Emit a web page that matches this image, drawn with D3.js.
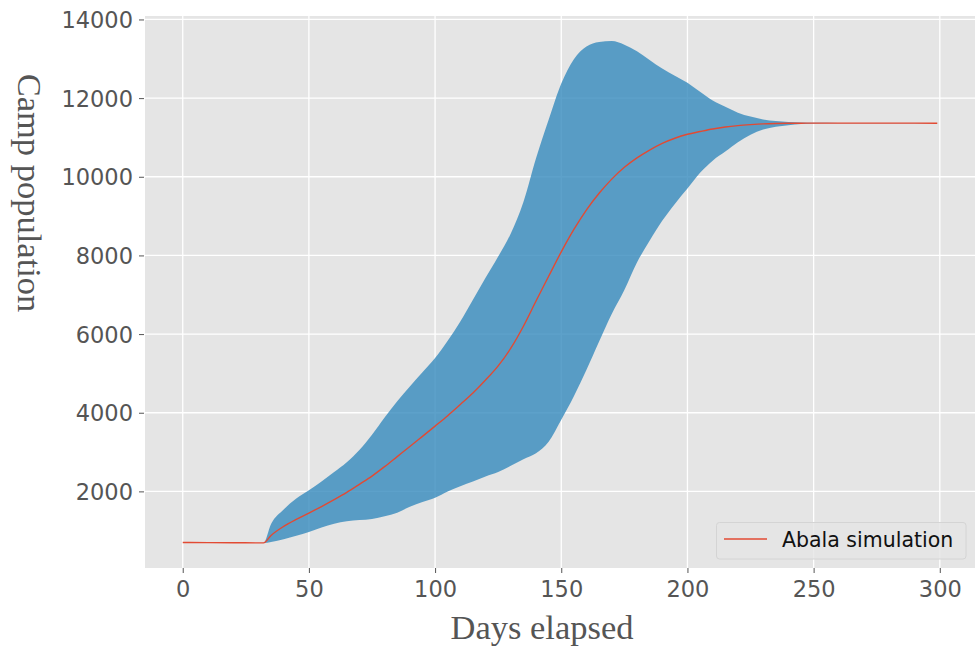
<!DOCTYPE html>
<html>
<head>
<meta charset="utf-8">
<script src="https://cdn.jsdelivr.net/npm/d3@7"></script>
<style>
  html, body { margin: 0; padding: 0; background: #ffffff; }
  svg { display: block; }
</style>
</head>
<body>
<svg id="chart" width="976" height="647"></svg>
<script>
// Simulated camp population: mean run and the spread across runs
const days = [0,10,20,32,35,40,45,50,55,60,65,70,75,80,85,90,95,100,105,110,115,120,125,130,135,140,145,150,155,160,165,170,175,180,185,190,195,200,205,210,215,220,225,230,235,240,245,250,260,270,280,290,299];

const meanPop = [700,698,695,690,880,1110,1290,1450,1615,1790,1975,2180,2390,2630,2885,3140,3400,3660,3925,4210,4500,4830,5190,5640,6200,6840,7470,8090,8660,9160,9580,9940,10240,10480,10680,10850,10980,11080,11150,11215,11265,11300,11325,11345,11355,11360,11362,11365,11365,11364,11365,11363,11362];

const upperPop = [700,698,695,690,1170,1540,1820,2030,2250,2490,2740,3050,3440,3880,4290,4670,5030,5390,5830,6320,6870,7430,7970,8560,9360,10470,11450,12370,12990,13310,13430,13450,13360,13190,12970,12750,12570,12390,12160,11940,11780,11630,11530,11455,11415,11390,11378,11372,11368,11366,11366,11365,11364];

const lowerPop = [700,698,695,690,715,780,870,970,1080,1180,1240,1270,1300,1370,1460,1610,1730,1840,2000,2130,2250,2380,2490,2650,2820,2970,3260,3820,4420,5090,5810,6510,7120,7820,8370,8880,9310,9700,10100,10410,10640,10880,11070,11200,11270,11310,11340,11355,11360,11360,11362,11361,11360];

const xTicks = [0, 50, 100, 150, 200, 250, 300];
const yTicks = [2000, 4000, 6000, 8000, 10000, 12000, 14000];

const seriesLabel = "Abala simulation";
const xLabel = "Days elapsed";
const yLabel = "Camp population";

const rows = days.map((d, i) => ({ day: d, mean: meanPop[i], lo: lowerPop[i], hi: upperPop[i] }));

// plot frame
const plot = { left: 145, right: 975, top: 16, bottom: 568 };

// domains padded by 5% on each side
const xMin = d3.min(days), xMax = d3.max(days);
const xPad = (xMax - xMin) * 0.05;
const yMin = d3.min(lowerPop), yMax = d3.max(upperPop);
const yPad = (yMax - yMin) * 0.05;

const x = d3.scaleLinear().domain([xMin - xPad, xMax + xPad]).range([plot.left, plot.right]);
const y = d3.scaleLinear().domain([yMin - yPad, yMax + yPad]).range([plot.bottom, plot.top]);

const svg = d3.select("#chart");

// panel background
svg.append("rect")
  .attr("x", plot.left).attr("y", plot.top)
  .attr("width", plot.right - plot.left).attr("height", plot.bottom - plot.top)
  .attr("fill", "#e5e5e5");

// grid
const grid = svg.append("g").attr("stroke", "#ffffff").attr("stroke-width", 1.3);
grid.selectAll("line.v").data(xTicks).join("line")
  .attr("x1", d => x(d)).attr("x2", d => x(d))
  .attr("y1", plot.top).attr("y2", plot.bottom);
grid.selectAll("line.h").data(yTicks).join("line")
  .attr("x1", plot.left).attr("x2", plot.right)
  .attr("y1", d => y(d)).attr("y2", d => y(d));

// spread band
const band = d3.area()
  .x(d => x(d.day))
  .y0(d => y(d.lo))
  .y1(d => y(d.hi))
  .curve(d3.curveMonotoneX);

svg.append("path")
  .datum(rows)
  .attr("d", band)
  .attr("fill", "#348ABD")
  .attr("fill-opacity", 0.8);

// mean line
const meanLine = d3.line()
  .x(d => x(d.day))
  .y(d => y(d.mean))
  .curve(d3.curveMonotoneX);

svg.append("path")
  .datum(rows)
  .attr("d", meanLine)
  .attr("fill", "none")
  .attr("stroke", "#E24A33")
  .attr("stroke-width", 1.4);

// axes
const xAxis = d3.axisBottom(x).tickValues(xTicks).tickSize(5).tickPadding(6).tickFormat(d3.format("d"));
const yAxis = d3.axisLeft(y).tickValues(yTicks).tickSize(5).tickPadding(6).tickFormat(d3.format("d"));

const gx = svg.append("g").attr("transform", `translate(0,${plot.bottom})`).call(xAxis);
const gy = svg.append("g").attr("transform", `translate(${plot.left - 1},0)`).call(yAxis);

[gx, gy].forEach(g => {
  g.select(".domain").remove();
  g.selectAll(".tick line").attr("stroke", "#555555").attr("stroke-width", 1);
  g.selectAll(".tick text")
    .attr("fill", "#555555")
    .style("font-family", "'DejaVu Sans', sans-serif")
    .style("font-size", "22.5px");
});
gx.selectAll(".tick text").attr("dy", "0.78em");
gy.selectAll(".tick text").attr("dy", "0.36em");

// axis titles
svg.append("text")
  .attr("x", 542)
  .attr("y", 639)
  .attr("text-anchor", "middle")
  .attr("fill", "#555555")
  .style("font-family", "'Liberation Serif', 'Times New Roman', serif")
  .style("font-size", "34.5px")
  .text(xLabel);

svg.append("text")
  .attr("transform", "translate(18,193) rotate(90)")
  .attr("text-anchor", "middle")
  .attr("fill", "#555555")
  .style("font-family", "'Liberation Serif', 'Times New Roman', serif")
  .style("font-size", "34.5px")
  .text(yLabel);

// legend
const legend = svg.append("g").attr("transform", "translate(716.5,522.5)");
legend.append("rect")
  .attr("width", 249.5).attr("height", 36.5)
  .attr("rx", 3).attr("ry", 3)
  .attr("fill", "#e5e5e5").attr("fill-opacity", 0.8)
  .attr("stroke", "#d4d4d4").attr("stroke-width", 1);
legend.append("line")
  .attr("x1", 7.5).attr("x2", 50.5)
  .attr("y1", 16.5).attr("y2", 16.5)
  .attr("stroke", "#E24A33").attr("stroke-width", 1.4);
legend.append("text")
  .attr("x", 65.5).attr("y", 24)
  .attr("fill", "#111111")
  .style("font-family", "'DejaVu Sans', sans-serif")
  .style("font-size", "20.5px")
  .text(seriesLabel);
</script>
</body>
</html>
